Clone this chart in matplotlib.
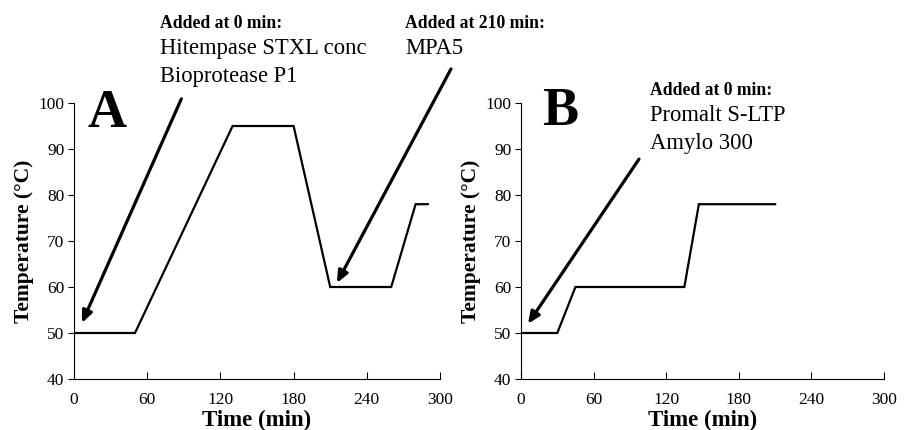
import matplotlib
matplotlib.use("Agg")
import matplotlib.pyplot as plt

plt.rcParams['font.family'] = ['Liberation Serif', 'DejaVu Serif']

# Temperature profiles (time in min, temperature in °C)
time_a = [0, 50, 130, 180, 210, 260, 280, 290]
temp_a = [50, 50, 95, 95, 60, 60, 78, 78]
time_b = [0, 30, 45, 135, 147, 210]
temp_b = [50, 50, 60, 60, 78, 78]

xticks = [0, 60, 120, 180, 240, 300]
yticks = [40, 50, 60, 70, 80, 90, 100]

# arrows: (tail_x, tail_y, head_x, head_y) in data units
arrows_a = [(88, 100.9, 6.5, 52.2), (309, 107.4, 215.5, 60.9)]
arrows_b = [(97.5, 87.8, 5.8, 52.0)]

W, H = 907, 430
fig = plt.figure(figsize=(W / 100, H / 100), dpi=100)

ax_a = fig.add_axes([74 / W, 1 - 379 / H, 366 / W, 276 / H])
ax_b = fig.add_axes([521 / W, 1 - 379 / H, 363 / W, 276 / H])

for ax, t, temp, arrs in [(ax_a, time_a, temp_a, arrows_a), (ax_b, time_b, temp_b, arrows_b)]:
    ax.plot(t, temp, color='black', lw=1.6, solid_joinstyle='miter')
    ax.set_xlim(0, 300)
    ax.set_ylim(40, 100)
    ax.set_xticks(xticks)
    ax.set_yticks(yticks)
    ax.spines['top'].set_visible(False)
    ax.spines['right'].set_visible(False)
    ax.spines['left'].set_linewidth(0.8)
    ax.spines['bottom'].set_linewidth(0.8)
    ax.tick_params(axis='x', direction='in', length=5, width=0.8, labelsize=12.5, pad=9)
    ax.tick_params(axis='y', direction='out', length=4, width=0.8, labelsize=12.5, pad=3)
    ax.set_xlabel('Time (min)', fontsize=16.5, fontweight='bold', labelpad=2)
    ax.set_ylabel('Temperature (°C)', fontsize=15.5, fontweight='bold', labelpad=3)
    for x0, y0, x1, y1 in arrs:
        ax.annotate('', xy=(x1, y1), xytext=(x0, y0), annotation_clip=False,
                    arrowprops=dict(arrowstyle='-|>,head_length=0.5,head_width=0.22',
                                    lw=2.3, color='black',
                                    mutation_scale=14, shrinkA=0, shrinkB=0))

# panel letters
fig.text(88 / W, 1 - 127 / H, 'A', fontsize=39, fontweight='bold', va='baseline')
fig.text(542 / W, 1 - 125 / H, 'B', fontsize=39, fontweight='bold', va='baseline')

# annotation text blocks: (x, baseline y of header) in pixels
def note(x, y, header, lines):
    fig.text(x / W, 1 - y / H, header, fontsize=12.7, fontweight='bold', va='baseline')
    for i, s in enumerate(lines):
        fig.text(x / W, 1 - (y + 26 + 28 * i) / H, s, fontsize=16.3, va='baseline')

note(160, 28, 'Added at 0 min:', ['Hitempase STXL conc', 'Bioprotease P1'])
note(405, 28, 'Added at 210 min:', ['MPA5'])
note(650, 95, 'Added at 0 min:', ['Promalt S-LTP', 'Amylo 300'])

fig.savefig('out.png', dpi=100)
